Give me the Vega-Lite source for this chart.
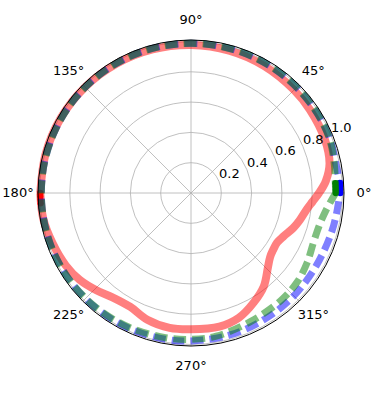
{
  "$schema": "https://vega.github.io/schema/vega-lite/v6.json",
  "width": 306,
  "height": 306,
  "autosize": {"type": "none"},
  "padding": {"left": 38, "top": 40, "right": 39, "bottom": 49},
  "config": {"view": {"stroke": null}, "font": "DejaVu Sans"},
  "datasets": {
    "rings": [{"r": 0.2}, {"r": 0.4}, {"r": 0.6}, {"r": 0.8}, {"r": 1.0}],
    "spokes": [{"a": 0}, {"a": 45}, {"a": 90}, {"a": 135}, {"a": 180}, {"a": 225}, {"a": 270}, {"a": 315}],
    "anglelabels": [
      {"a": 0, "label": "0°"}, {"a": 45, "label": "45°"}, {"a": 90, "label": "90°"}, {"a": 135, "label": "135°"},
      {"a": 180, "label": "180°"}, {"a": 225, "label": "225°"}, {"a": 270, "label": "270°"}, {"a": 315, "label": "315°"}
    ],
    "rlabels": [{"r": 0.2, "label": "0.2"}, {"r": 0.4, "label": "0.4"}, {"r": 0.6, "label": "0.6"}, {"r": 0.8, "label": "0.8"}, {"r": 1.0, "label": "1.0"}],
    "red": [
      {"t": 180, "r": 0.995}, {"t": 190, "r": 0.99}, {"t": 200, "r": 0.972}, {"t": 210, "r": 0.955}, {"t": 218, "r": 0.932},
      {"t": 226, "r": 0.895}, {"t": 233, "r": 0.862}, {"t": 242, "r": 0.852}, {"t": 251, "r": 0.885}, {"t": 261, "r": 0.902},
      {"t": 270, "r": 0.9}, {"t": 282, "r": 0.902}, {"t": 291, "r": 0.882}, {"t": 300, "r": 0.832}, {"t": 308, "r": 0.781},
      {"t": 316, "r": 0.706}, {"t": 321, "r": 0.672}, {"t": 325, "r": 0.66}, {"t": 330, "r": 0.656}, {"t": 335, "r": 0.675},
      {"t": 341, "r": 0.713}, {"t": 346, "r": 0.74}, {"t": 352, "r": 0.772}, {"t": 356, "r": 0.805}, {"t": 360, "r": 0.845},
      {"t": 365, "r": 0.893}, {"t": 372, "r": 0.935}, {"t": 382, "r": 0.952}, {"t": 395, "r": 0.958}, {"t": 405, "r": 0.962},
      {"t": 420, "r": 0.968}, {"t": 435, "r": 0.973}, {"t": 450, "r": 0.977}, {"t": 465, "r": 0.981}, {"t": 480, "r": 0.985},
      {"t": 495, "r": 0.989}, {"t": 510, "r": 0.992}, {"t": 525, "r": 0.994}, {"t": 540, "r": 0.995}
    ],
    "blue": [
      {"t": 0, "r": 0.983}, {"t": 4, "r": 0.983}, {"t": 12, "r": 0.975}, {"t": 22, "r": 0.985}, {"t": 35, "r": 0.986},
      {"t": 50, "r": 0.987}, {"t": 65, "r": 0.988}, {"t": 80, "r": 0.988}, {"t": 95, "r": 0.988}, {"t": 110, "r": 0.988},
      {"t": 125, "r": 0.988}, {"t": 140, "r": 0.988}, {"t": 155, "r": 0.988}, {"t": 170, "r": 0.988}, {"t": 185, "r": 0.988},
      {"t": 200, "r": 0.988}, {"t": 215, "r": 0.987}, {"t": 230, "r": 0.985}, {"t": 245, "r": 0.983}, {"t": 260, "r": 0.98},
      {"t": 270, "r": 0.977}, {"t": 285, "r": 0.972}, {"t": 300, "r": 0.965}, {"t": 315, "r": 0.96}, {"t": 330, "r": 0.956},
      {"t": 344, "r": 0.963}, {"t": 352, "r": 0.97}, {"t": 360, "r": 0.983}
    ],
    "green": [
      {"t": 0, "r": 0.955}, {"t": 4, "r": 0.955}, {"t": 12, "r": 0.966}, {"t": 22, "r": 0.982}, {"t": 35, "r": 0.986},
      {"t": 50, "r": 0.987}, {"t": 65, "r": 0.988}, {"t": 80, "r": 0.988}, {"t": 95, "r": 0.988}, {"t": 110, "r": 0.988},
      {"t": 125, "r": 0.988}, {"t": 140, "r": 0.988}, {"t": 155, "r": 0.988}, {"t": 170, "r": 0.988}, {"t": 185, "r": 0.988},
      {"t": 200, "r": 0.988}, {"t": 215, "r": 0.986}, {"t": 230, "r": 0.982}, {"t": 245, "r": 0.976}, {"t": 260, "r": 0.97},
      {"t": 270, "r": 0.966}, {"t": 280, "r": 0.96}, {"t": 295, "r": 0.935}, {"t": 310, "r": 0.925}, {"t": 320, "r": 0.915},
      {"t": 329, "r": 0.894}, {"t": 338, "r": 0.872}, {"t": 346, "r": 0.874}, {"t": 353, "r": 0.9}, {"t": 360, "r": 0.955}
    ],
    "markers": [
      {"s": "red", "t": 180, "r": 0.995}, {"s": "red", "t": 181.3, "r": 0.995}, {"s": "red", "t": 182.6, "r": 0.995}, {"s": "red", "t": 183.9, "r": 0.995},
      {"s": "blue", "t": 0, "r": 0.985}, {"s": "blue", "t": 1.3, "r": 0.985}, {"s": "blue", "t": 2.6, "r": 0.985}, {"s": "blue", "t": 3.9, "r": 0.985},
      {"s": "green", "t": 0, "r": 0.955}, {"s": "green", "t": 1.3, "r": 0.955}, {"s": "green", "t": 2.6, "r": 0.955}, {"s": "green", "t": 3.9, "r": 0.955}
    ]
  },
  "layer": [
    {
      "data": {"name": "rings"},
      "mark": {"type": "arc", "theta": 0, "theta2": 6.2832, "filled": false, "stroke": "#b0b0b0", "strokeWidth": 0.8},
      "encoding": {"radius": {"field": "r", "type": "quantitative", "stack": null, "scale": {"type": "linear", "domain": [0, 1.01], "range": [0, 153], "zero": true, "nice": false}}}
    },
    {
      "data": {"name": "spokes"},
      "transform": [
        {"calculate": "1.01*cos(datum.a*PI/180)", "as": "ex"},
        {"calculate": "1.01*sin(datum.a*PI/180)", "as": "ey"},
        {"calculate": "0", "as": "ox"}
      ],
      "mark": {"type": "rule", "stroke": "#b0b0b0", "strokeWidth": 0.8},
      "encoding": {
        "x": {"field": "ox", "type": "quantitative", "scale": {"domain": [-1.01, 1.01], "nice": false, "zero": false}, "axis": null},
        "y": {"field": "ox", "type": "quantitative", "scale": {"domain": [-1.01, 1.01], "nice": false, "zero": false}, "axis": null},
        "x2": {"field": "ex"},
        "y2": {"field": "ey"}
      }
    },
    {
      "data": {"name": "red"},
      "transform": [
        {"calculate": "datum.r*cos(datum.t*PI/180)", "as": "x"},
        {"calculate": "datum.r*sin(datum.t*PI/180)", "as": "y"}
      ],
      "mark": {"type": "line", "stroke": "red", "strokeOpacity": 0.5, "strokeWidth": 8, "interpolate": "catmull-rom"},
      "encoding": {
        "x": {"field": "x", "type": "quantitative"},
        "y": {"field": "y", "type": "quantitative"},
        "order": {"field": "t", "type": "quantitative"}
      }
    },
    {
      "data": {"name": "markers"},
      "transform": [
        {"filter": "datum.s == 'red'"},
        {"calculate": "datum.r*cos(datum.t*PI/180)", "as": "x"},
        {"calculate": "datum.r*sin(datum.t*PI/180)", "as": "y"}
      ],
      "mark": {"type": "circle", "size": 40, "color": "red", "opacity": 1},
      "encoding": {"x": {"field": "x", "type": "quantitative"}, "y": {"field": "y", "type": "quantitative"}}
    },
    {
      "data": {"name": "blue"},
      "transform": [
        {"calculate": "datum.r*cos(datum.t*PI/180)", "as": "x"},
        {"calculate": "datum.r*sin(datum.t*PI/180)", "as": "y"}
      ],
      "mark": {"type": "line", "stroke": "blue", "strokeOpacity": 0.5, "strokeWidth": 7, "strokeDash": [13, 6], "strokeCap": "butt", "interpolate": "catmull-rom"},
      "encoding": {
        "x": {"field": "x", "type": "quantitative"},
        "y": {"field": "y", "type": "quantitative"},
        "order": {"field": "t", "type": "quantitative"}
      }
    },
    {
      "data": {"name": "markers"},
      "transform": [
        {"filter": "datum.s == 'blue'"},
        {"calculate": "datum.r*cos(datum.t*PI/180)", "as": "x"},
        {"calculate": "datum.r*sin(datum.t*PI/180)", "as": "y"}
      ],
      "mark": {"type": "circle", "size": 40, "color": "blue", "opacity": 1},
      "encoding": {"x": {"field": "x", "type": "quantitative"}, "y": {"field": "y", "type": "quantitative"}}
    },
    {
      "data": {"name": "green"},
      "transform": [
        {"calculate": "datum.r*cos(datum.t*PI/180)", "as": "x"},
        {"calculate": "datum.r*sin(datum.t*PI/180)", "as": "y"}
      ],
      "mark": {"type": "line", "stroke": "#008000", "strokeOpacity": 0.5, "strokeWidth": 7, "strokeDash": [13, 6], "strokeCap": "butt", "interpolate": "catmull-rom"},
      "encoding": {
        "x": {"field": "x", "type": "quantitative"},
        "y": {"field": "y", "type": "quantitative"},
        "order": {"field": "t", "type": "quantitative"}
      }
    },
    {
      "data": {"name": "markers"},
      "transform": [
        {"filter": "datum.s == 'green'"},
        {"calculate": "datum.r*cos(datum.t*PI/180)", "as": "x"},
        {"calculate": "datum.r*sin(datum.t*PI/180)", "as": "y"}
      ],
      "mark": {"type": "circle", "size": 40, "color": "#008000", "opacity": 1},
      "encoding": {"x": {"field": "x", "type": "quantitative"}, "y": {"field": "y", "type": "quantitative"}}
    },
    {
      "data": {"values": [{"r": 1.01}]},
      "mark": {"type": "arc", "theta": 0, "theta2": 6.2832, "filled": false, "stroke": "black", "strokeWidth": 1},
      "encoding": {"radius": {"field": "r", "type": "quantitative", "stack": null}}
    },
    {
      "data": {"name": "anglelabels"},
      "transform": [
        {"calculate": "1.142*cos(datum.a*PI/180)", "as": "x"},
        {"calculate": "1.142*sin(datum.a*PI/180)", "as": "y"}
      ],
      "mark": {"type": "text", "fontSize": 13, "font": "DejaVu Sans", "color": "black", "align": "center", "baseline": "middle"},
      "encoding": {"x": {"field": "x", "type": "quantitative"}, "y": {"field": "y", "type": "quantitative"}, "text": {"field": "label"}}
    },
    {
      "data": {"name": "rlabels"},
      "transform": [
        {"calculate": "datum.r*cos(22.5*PI/180)", "as": "x"},
        {"calculate": "datum.r*sin(22.5*PI/180)", "as": "y"}
      ],
      "mark": {"type": "text", "fontSize": 13, "font": "DejaVu Sans", "color": "black", "align": "left", "baseline": "alphabetic", "dy": -3},
      "encoding": {"x": {"field": "x", "type": "quantitative"}, "y": {"field": "y", "type": "quantitative"}, "text": {"field": "label"}}
    }
  ]
}
